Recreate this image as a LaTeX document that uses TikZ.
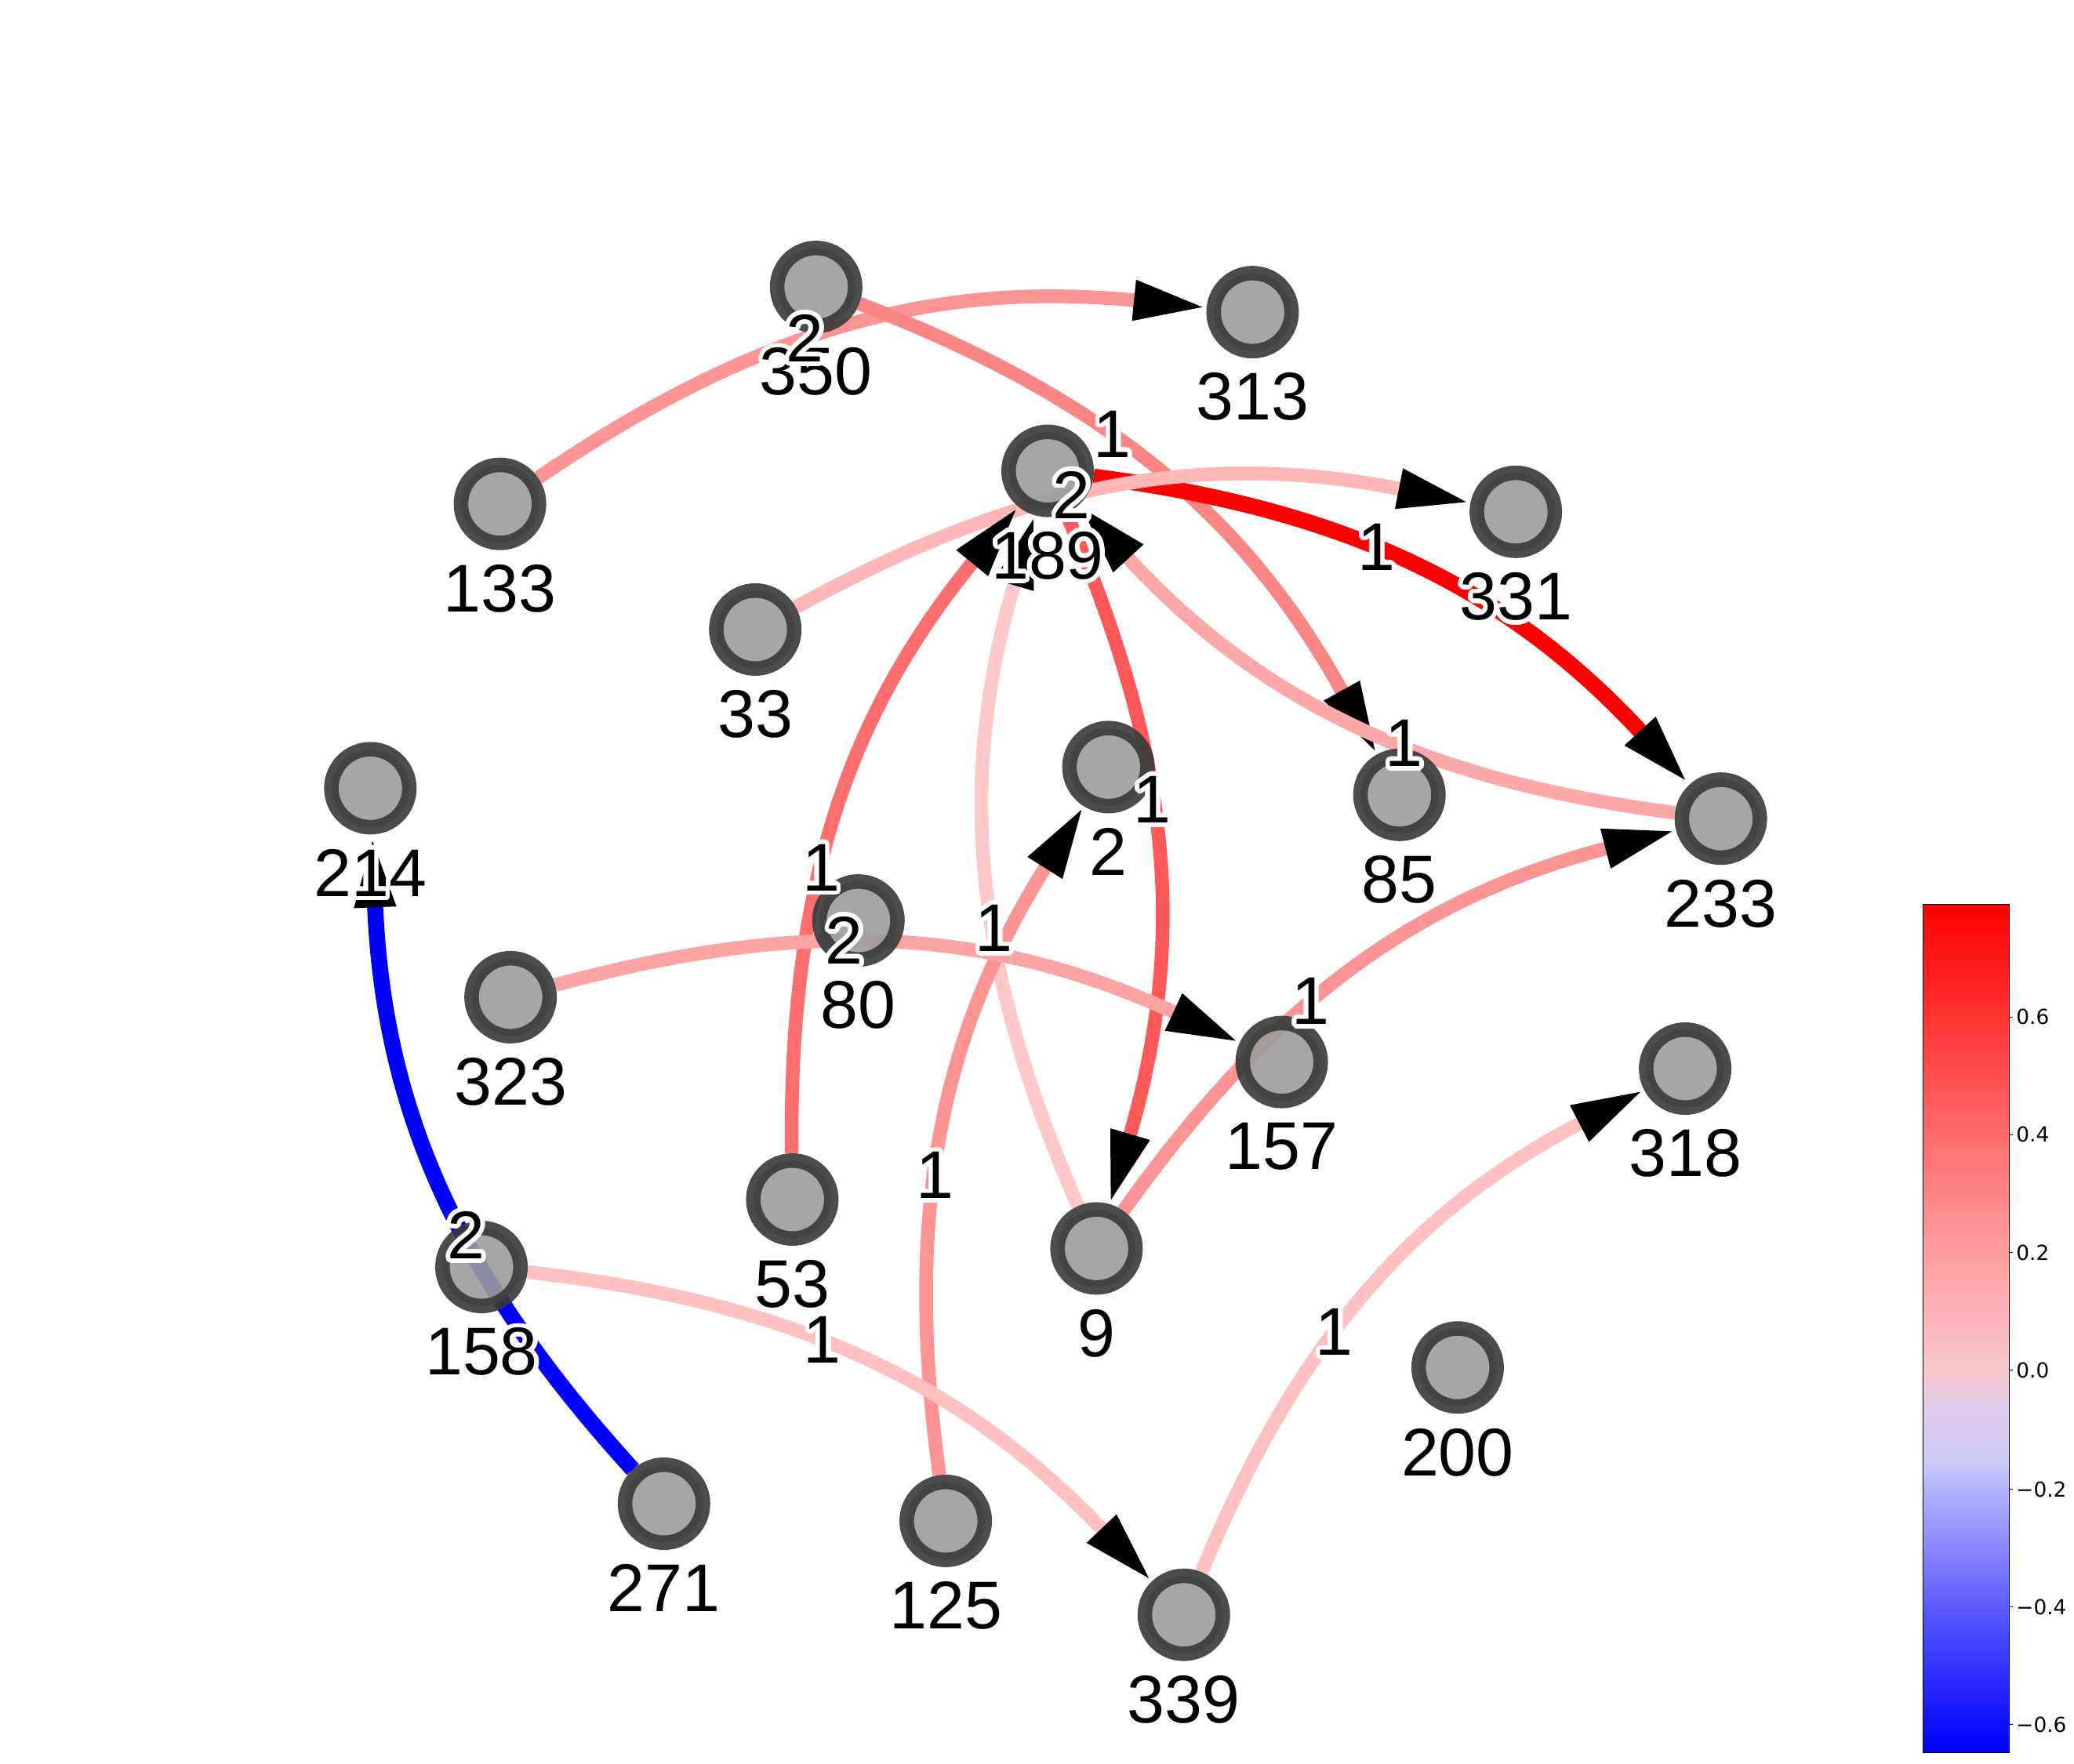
\documentclass[tikz,border=0pt]{standalone}
\usepackage{fontspec}
\setmainfont{Liberation Sans}
\newfontfamily\tickfont{DejaVu Sans}
\usepackage[copies]{contour}
\contourlength{1.6pt}
\contournumber{24}
\usetikzlibrary{arrows.meta,positioning}

\definecolor{vfill}{HTML}{9C9C9C}
\definecolor{vline}{HTML}{393939}
\definecolor{cA}{HTML}{FC9494}
\definecolor{cB}{HTML}{FA8585}
\definecolor{cC}{HTML}{FFB6B6}
\definecolor{cD}{HTML}{FCA8A8}
\definecolor{cE}{HTML}{FF6E6E}
\definecolor{cF}{HTML}{FFC8C8}
\definecolor{cG}{HTML}{FF5858}
\definecolor{cH}{HTML}{FCA4A4}
\definecolor{cI}{HTML}{FFC0C0}

\pgfdeclarelayer{edges}
\pgfsetlayers{edges,main}

\pgfdeclareverticalshading{corrbar}{100bp}{
  rgb(0bp)=(0,0,1); rgb(25bp)=(0,0,1);
  rgb(26.6bp)=(0.05,0.05,1);
  rgb(33.6bp)=(0.36,0.36,1);
  rgb(40.5bp)=(0.70,0.70,1);
  rgb(42.3bp)=(0.80,0.80,0.97);
  rgb(45.8bp)=(0.89,0.80,0.90);
  rgb(47.5bp)=(0.97,0.78,0.80);
  rgb(54.5bp)=(1,0.62,0.62);
  rgb(61.4bp)=(1,0.42,0.42);
  rgb(68.4bp)=(1,0.20,0.20);
  rgb(75bp)=(1,0,0); rgb(100bp)=(1,0,0)}

\begin{document}
\begin{tikzpicture}[x=0.16869mm, y=-0.16869mm]
    \tikzset{vertex/.style={circle,
            fill=vfill,
            draw=vline,
            line width=1.85mm,
            minimum size=9.95mm,
            inner sep=0pt,
            opacity=0.9
        },
        vlabel/.style={font=\fontsize{24.5}{24.5}\selectfont,
            inner sep=0pt,
            yshift=-1.8mm,
            opacity=1
        },
        weight/.style={font=\fontsize{24.5}{24.5}\selectfont,
            inner sep=0pt
        },
        link/.style={line width=1.75mm,
            bend left=20,
            -{Triangle[length=9.3mm,width=4.7mm,color=black]}
        },
        strong/.style={link, line width=2.05mm},
    }
    \useasboundingbox (0,0) rectangle (1568,1333.8);
%% vertices
    \node [vertex, label={[vlabel]below:\contour{white}{350}}] (n350) at (617,217) {};
    \node [vertex, label={[vlabel]below:\contour{white}{313}}] (n313) at (947,236) {};
    \node [vertex, label={[vlabel]below:\contour{white}{133}}] (n133) at (378,381) {};
    \node [vertex, label={[vlabel]below:\contour{white}{189}}] (n189) at (792,356) {};
    \node [vertex, label={[vlabel]below:\contour{white}{331}}] (n331) at (1146,387) {};
    \node [vertex, label={[vlabel]below:\contour{white}{33}}] (n33) at (571,476) {};
    \node [vertex, label={[vlabel]below:\contour{white}{214}}] (n214) at (280,596) {};
    \node [vertex, label={[vlabel]below:\contour{white}{2}}] (n2) at (838,580) {};
    \node [vertex, label={[vlabel]below:\contour{white}{85}}] (n85) at (1058,601) {};
    \node [vertex, label={[vlabel]below:\contour{white}{233}}] (n233) at (1301,619) {};
    \node [vertex, label={[vlabel]below:\contour{white}{80}}] (n80) at (649,696) {};
    \node [vertex, label={[vlabel]below:\contour{white}{323}}] (n323) at (386,754) {};
    \node [vertex, label={[vlabel]below:\contour{white}{157}}] (n157) at (969,803) {};
    \node [vertex, label={[vlabel]below:\contour{white}{318}}] (n318) at (1274,808) {};
    \node [vertex, label={[vlabel]below:\contour{white}{53}}] (n53) at (599,907) {};
    \node [vertex, label={[vlabel]below:\contour{white}{9}}] (n9) at (829,944) {};
    \node [vertex, label={[vlabel]below:\contour{white}{158}}] (n158) at (364,958) {};
    \node [vertex, label={[vlabel]below:\contour{white}{200}}] (n200) at (1102,1034) {};
    \node [vertex, label={[vlabel]below:\contour{white}{271}}] (n271) at (502,1137) {};
    \node [vertex, label={[vlabel]below:\contour{white}{125}}] (n125) at (715,1150) {};
    \node [vertex, label={[vlabel]below:\contour{white}{339}}] (n339) at (895,1221) {};
%% links
\begin{pgfonlayer}{edges}
\path[link]
    (n133) edge[cA] coordinate[pos=.42] (w1) (n313)
    (n350) edge[cB] coordinate[pos=.4] (w2) (n85)
    (n189) edge[red, strong] coordinate[pos=.42] (w3) (n233)
    (n33) edge[cC] coordinate[pos=.42] (w4) (n331)
    (n233) edge[cD] coordinate[pos=.4] (w5) (n189)
    (n53) edge[cE] coordinate[pos=.4] (w6) (n189)
    (n9) edge[cF] coordinate[pos=.4] (w7) (n189)
    (n189) edge[cG] coordinate[pos=.42] (w8) (n9)
    (n125) edge[cA] coordinate[pos=.42] (w9) (n2)
    (n323) edge[cH] coordinate[pos=.41] (w10) (n157)
    (n9) edge[cA] coordinate[pos=.4] (w11) (n233)
    (n339) edge[cI] coordinate[pos=.4] (w12) (n318)
    (n158) edge[cI] coordinate[pos=.42] (w13) (n339)
    (n271) edge[blue, strong] coordinate[pos=.4] (w14) (n214)
;
\end{pgfonlayer}
%% weights
    \node [weight] (l1) at (w1) {\contour{white}{2}};
    \node [weight] (l2) at (w2) {\contour{white}{1}};
    \node [weight] (l3) at (w3) {\contour{white}{1}};
    \node [weight] (l4) at (w4) {\contour{white}{2}};
    \node [weight] (l5) at (w5) {\contour{white}{1}};
    \node [weight] (l6) at (w6) {\contour{white}{1}};
    \node [weight] (l7) at (w7) {\contour{white}{1}};
    \node [weight] (l8) at (w8) {\contour{white}{1}};
    \node [weight] (l9) at (w9) {\contour{white}{1}};
    \node [weight] (l10) at (w10) {\contour{white}{2}};
    \node [weight] (l11) at (w11) {\contour{white}{1}};
    \node [weight] (l12) at (w12) {\contour{white}{1}};
    \node [weight] (l13) at (w13) {\contour{white}{1}};
    \node [weight] (l14) at (w14) {\contour{white}{2}};
%% colour bar
    \shade[shading=corrbar] (1454,684) rectangle (1519,1325);
    \draw[line width=0.3pt] (1454,684) rectangle (1519,1325);
    \draw[line width=0.3pt] (1519,769) -- (1522,769) node[right=1pt, inner sep=0pt, font=\tickfont\fontsize{7.5}{8}\selectfont] (t6) {0.6};
    \draw[line width=0.3pt] (1519,858) -- (1522,858) node[right=1pt, inner sep=0pt, font=\tickfont\fontsize{7.5}{8}\selectfont] (t4) {0.4};
    \draw[line width=0.3pt] (1519,947) -- (1522,947) node[right=1pt, inner sep=0pt, font=\tickfont\fontsize{7.5}{8}\selectfont] (t2) {0.2};
    \draw[line width=0.3pt] (1519,1036) -- (1522,1036) node[right=1pt, inner sep=0pt, font=\tickfont\fontsize{7.5}{8}\selectfont] (t0) {0.0};
    \draw[line width=0.3pt] (1519,1126) -- (1522,1126) node[right=1pt, inner sep=0pt, font=\tickfont\fontsize{7.5}{8}\selectfont] (tm2) {−0.2};
    \draw[line width=0.3pt] (1519,1215) -- (1522,1215) node[right=1pt, inner sep=0pt, font=\tickfont\fontsize{7.5}{8}\selectfont] (tm4) {−0.4};
    \draw[line width=0.3pt] (1519,1304) -- (1522,1304) node[right=1pt, inner sep=0pt, font=\tickfont\fontsize{7.5}{8}\selectfont] (tm6) {−0.6};
\end{tikzpicture}
\end{document}
